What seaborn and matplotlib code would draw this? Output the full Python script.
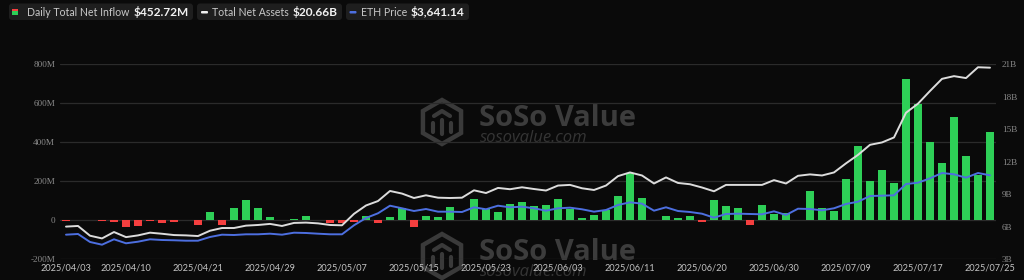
import numpy as np
import pandas as pd
import seaborn as sns
import matplotlib
matplotlib.use("Agg")
import matplotlib.pyplot as plt
from matplotlib.patches import FancyBboxPatch, RegularPolygon, Rectangle

# ---------------- data ----------------
dates = [
    "2025/04/03", "2025/04/04", "2025/04/07", "2025/04/08", "2025/04/09", "2025/04/10", "2025/04/11",
    "2025/04/14", "2025/04/15", "2025/04/16", "2025/04/17", "2025/04/21", "2025/04/22", "2025/04/23",
    "2025/04/24", "2025/04/25", "2025/04/28", "2025/04/29", "2025/04/30",
    "2025/05/01", "2025/05/02", "2025/05/05", "2025/05/06", "2025/05/07", "2025/05/08", "2025/05/09",
    "2025/05/12", "2025/05/13", "2025/05/14", "2025/05/15", "2025/05/16", "2025/05/19", "2025/05/20",
    "2025/05/21", "2025/05/22", "2025/05/23", "2025/05/27", "2025/05/28", "2025/05/29", "2025/05/30",
    "2025/06/02", "2025/06/03", "2025/06/04", "2025/06/05", "2025/06/06", "2025/06/09", "2025/06/10",
    "2025/06/11", "2025/06/12", "2025/06/13", "2025/06/16", "2025/06/17", "2025/06/18", "2025/06/20",
    "2025/06/23", "2025/06/24", "2025/06/25", "2025/06/26", "2025/06/27", "2025/06/30",
    "2025/07/01", "2025/07/02", "2025/07/03", "2025/07/07", "2025/07/08", "2025/07/09", "2025/07/10",
    "2025/07/11", "2025/07/14", "2025/07/15", "2025/07/16", "2025/07/17", "2025/07/18", "2025/07/21",
    "2025/07/22", "2025/07/23", "2025/07/24", "2025/07/25",
]

# Daily total net inflow (million USD)
net_inflow_m = [
    -3, 2, 0, -3, -12, -38, -29, -7, -13, -12, 0, -26, 39, -24, 62, 103, 63, 17, -2,
    6, 20, 0, -15, -16, -12, 19, -14, 14, 63, -38, 22, 14, 65, 2, 109, 56, 39, 84, 92, 70,
    79, 108, 56, 10, 26, 53, 125, 241, 111, -2, 21, 12, 19, -10, 101, 70, 60, -24, 77, 32,
    38, -2, 147, 60, 46, 209, 381, 202, 257, 190, 723, 597, 398, 294, 530, 330, 229, 452.72,
]

# Total net assets (billion USD)
net_assets_b = [
    5.99, 6.05, 5.15, 4.90, 5.49, 5.02, 5.18, 5.43, 5.33, 5.21, 5.18, 5.12, 5.61, 5.86,
    5.86, 6.08, 6.14, 6.24, 6.05,
    6.33, 6.36, 6.29, 6.14, 6.11, 7.17, 7.94, 8.35, 9.28, 9.04, 8.63, 8.88, 8.66, 8.63,
    8.66, 9.34, 9.09, 9.56, 9.44, 9.62, 9.46,
    9.32, 9.78, 9.84, 9.53, 9.37, 9.78, 10.65, 10.99, 10.71, 9.97, 10.53, 10.02, 9.90,
    9.60, 9.25, 9.84, 9.84, 9.84, 9.84, 10.28,
    9.97, 10.68, 10.81, 10.71, 10.99, 11.83, 12.61, 13.54, 13.76, 14.22, 16.50, 17.34,
    18.51, 19.63, 19.88, 19.70, 20.70, 20.66,
]

# ETH price (USD)
eth_price = [
    1785, 1807, 1557, 1472, 1641, 1516, 1566, 1641, 1619, 1610, 1597, 1597, 1713, 1785,
    1775, 1797, 1797, 1816, 1785,
    1847, 1838, 1816, 1797, 1797, 2079, 2307, 2454, 2691, 2610, 2525, 2588, 2504, 2504,
    2494, 2641, 2579, 2691, 2641, 2660, 2610,
    2535, 2610, 2629, 2579, 2504, 2557, 2713, 2797, 2754, 2535, 2641, 2525, 2494, 2441,
    2316, 2432, 2441, 2432, 2422, 2515,
    2400, 2597, 2588, 2547, 2610, 2744, 2816, 2994, 3004, 3016, 3369, 3410, 3547, 3713,
    3672, 3566, 3713, 3641.14,
]

xtick_labels = ["2025/04/03", "2025/04/10", "2025/04/21", "2025/04/29", "2025/05/07",
                "2025/05/15", "2025/05/23", "2025/06/03", "2025/06/11", "2025/06/20",
                "2025/06/30", "2025/07/09", "2025/07/17", "2025/07/25"]
left_ticks = [-200, 0, 200, 400, 600, 800]
left_tick_labels = ["-200M", "0", "200M", "400M", "600M", "800M"]
right_ticks = [3, 6, 9, 12, 15, 18, 21]
right_tick_labels = ["3B", "6B", "9B", "12B", "15B", "18B", "21B"]

legend_items = [
    ("Daily Total Net Inflow", "$452.72M"),
    ("Total Net Assets", "$20.66B"),
    ("ETH Price", "$3,641.14"),
]

# ---------------- style ----------------
BG = "#0a0a0a"
GREEN = "#2ecf57"
RED = "#f43f3f"
WHITE_LINE = "#dcdcdc"
BLUE_LINE = "#4d6fe0"
GRID = "#2b2b2b"

sns.set_theme(style="dark")
plt.rcParams["font.family"] = ["Lato", "DejaVu Sans"]

df = pd.DataFrame({
    "date": dates,
    "idx": np.arange(len(dates)),
    "inflow": net_inflow_m,
    "assets": net_assets_b,
    "eth": eth_price,
})
df["sign"] = np.where(df["inflow"] >= 0, "pos", "neg")

W, H = 1024, 280
fig = plt.figure(figsize=(W / 100, H / 100), dpi=100, facecolor=BG)

# background / watermark / legend layer in pixel coordinates
bgax = fig.add_axes([0, 0, 1, 1], zorder=0)
bgax.set_xlim(0, W)
bgax.set_ylim(H, 0)
bgax.axis("off")
bgax.set_facecolor(BG)

def watermark(cx, cy):
    hexagon = RegularPolygon((cx, cy), numVertices=6, radius=22, orientation=0,
                             facecolor="none", edgecolor="#3a3a3a", lw=3.2)
    bgax.add_patch(hexagon)
    bgax.plot([cx - 8, cx, cx + 8], [cy - 6, cy - 11, cy - 6], color="#3a3a3a", lw=3)
    bgax.plot([cx, cx], [cy - 2, cy + 12], color="#3a3a3a", lw=3)
    bgax.plot([cx - 9, cx - 9], [cy + 1, cy + 10], color="#3a3a3a", lw=3)
    bgax.plot([cx + 9, cx + 9], [cy + 1, cy + 10], color="#3a3a3a", lw=3)
    bgax.text(cx + 37, cy - 4, "SoSo Value", fontsize=21, fontweight="bold",
              color="#3c3c3c", ha="left", va="center", family=["Open Sans", "DejaVu Sans"])
    bgax.text(cx + 38, cy + 16, "sosovalue.com", fontsize=12, color="#353535",
              ha="left", va="center", family=["Open Sans", "DejaVu Sans"], fontstyle="italic")

watermark(442, 122)
watermark(442, 256)

# legend chips
chip_x = [(9, 193), (197, 342), (346, 469)]
label_x = [27, 212, 361]
value_x = [134, 293, 411]
for k, ((x0, x1), (lab, val)) in enumerate(zip(chip_x, legend_items)):
    bgax.add_patch(FancyBboxPatch((x0, 3.5), x1 - x0, 16.5,
                                  boxstyle="round,pad=0,rounding_size=3",
                                  facecolor="#1e1e1e", edgecolor="none"))
    bgax.text(label_x[k], 12.3, lab, fontsize=7.6, color="#c8c8c8", ha="left", va="center")
    bgax.text(value_x[k], 12.3, val, fontsize=8.6, color="#f2f2f2", ha="left",
              va="center", fontweight="bold")
# legend icons
bgax.add_patch(Rectangle((12, 8.8), 6, 2.4, facecolor=RED, edgecolor="none"))
bgax.add_patch(Rectangle((12, 11.2), 6, 3.8, facecolor=GREEN, edgecolor="none"))
bgax.add_patch(FancyBboxPatch((201, 11), 7, 2.5, boxstyle="round,pad=0,rounding_size=1",
                              facecolor="#f0f0f0", edgecolor="none"))
bgax.add_patch(FancyBboxPatch((349.5, 11), 7, 2.5, boxstyle="round,pad=0,rounding_size=1",
                              facecolor=BLUE_LINE, edgecolor="none"))

# main axes
ax = fig.add_axes([60 / W, 21 / H, 936 / W, 195 / H], zorder=1)
ax.set_facecolor("none")
sns.barplot(data=df, x="date", y="inflow", hue="sign", order=dates,
            palette={"pos": GREEN, "neg": RED}, dodge=False, width=0.67,
            saturation=1, linewidth=0, legend=False, ax=ax)
ax.set_xlim(-0.5, len(dates) - 0.5)
ax.set_ylim(-200, 800)
ax.set_yticks(left_ticks)
ax.set_yticklabels(left_tick_labels)
ax.grid(axis="y", color=GRID, lw=0.9)
ax.grid(axis="x", visible=False)
ax.set_axisbelow(True)
xt = [dates.index(d) for d in xtick_labels]
ax.set_xticks(xt)
ax.set_xticklabels(xtick_labels)
ax.tick_params(axis="x", length=0, pad=3.2, labelsize=6.6, labelcolor="#c4c4c4")
ax.tick_params(axis="y", length=0, pad=3.5, labelsize=6.6, labelcolor="#8a8a8a")
for t in ax.get_yticklabels():
    t.set_family(["Liberation Serif", "DejaVu Serif"])
ax.set_xlabel("")
ax.set_ylabel("")
for s in ax.spines.values():
    s.set_visible(False)

# total net assets on right axis
ax2 = ax.twinx()
ax2.set_zorder(2)
sns.lineplot(data=df, x="idx", y="assets", color=WHITE_LINE, lw=1.4, ax=ax2)
ax2.set_ylim(3, 21)
ax2.set_yticks(right_ticks)
ax2.set_yticklabels(right_tick_labels)
ax2.tick_params(axis="y", length=0, pad=4.3, labelsize=6.6, labelcolor="#8a8a8a")
for t in ax2.get_yticklabels():
    t.set_family(["Liberation Serif", "DejaVu Serif"])
ax2.grid(False)
ax2.set_ylabel("")
ax2.set_xlabel("")

# ETH price on hidden axis
ax3 = ax.twinx()
ax3.set_zorder(3)
sns.lineplot(data=df, x="idx", y="eth", color=BLUE_LINE, lw=1.4, ax=ax3)
ax3.set_ylim(1025, 7120)
ax3.set_yticks([])
ax3.grid(False)
ax3.set_ylabel("")
ax3.set_xlabel("")

for a in (ax2, ax3):
    a.set_facecolor("none")
    a.set_xlim(-0.5, len(dates) - 0.5)
    for s in a.spines.values():
        s.set_visible(False)

fig.savefig("out.png", dpi=100, facecolor=BG)
